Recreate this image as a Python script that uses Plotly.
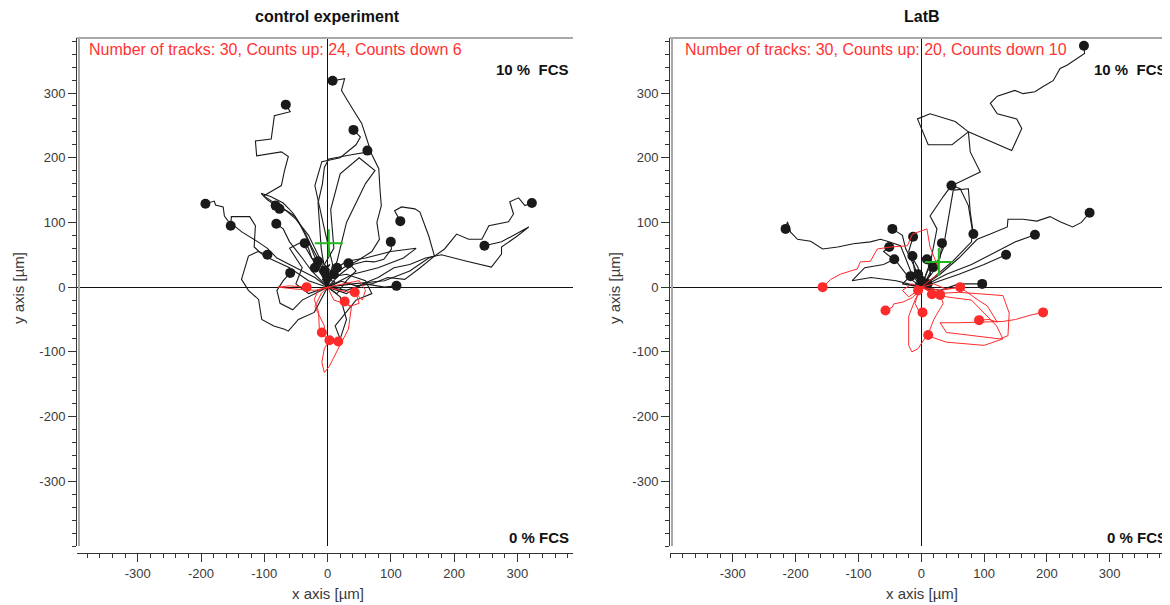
import plotly.graph_objects as go

# ---------------- data (µm) ----------------
ctrl_up_tracks = [
    [(0,0),(6,16),(25,30),(46,40),(70,55),(82,74),(78,100),(85,126),(83,150),(81,183),(70,205),(62,229),(54,253),(40,275),(22,304),(27,322),(8,319)],
    [(0,0),(-13,40),(-25,62),(-36,85),(-52,110),(-78,126),(-101,141),(-85,150),(-73,157),(-68,180),(-62,202),(-73,209),(-112,203),(-114,226),(-89,229),(-84,265),(-59,271),(-66,282)],
    [(0,0),(8,35),(-5,90),(-12,120),(-20,157),(-9,194),(20,200),(45,220),(52,232),(41,243)],
    [(0,0),(-10,60),(-15,130),(-8,160),(-5,185),(2,198),(40,205),(65,209),(63,211)],
    [(0,0),(22,9),(45,2),(70,5),(95,15),(122,12),(144,28),(169,48),(185,59),(204,82),(223,74),(244,74),(255,95),(272,98),(286,101),(294,113),(288,132),(302,138),(312,126),(323,130)],
    [(0,0),(30,-10),(55,5),(80,15),(105,30),(130,35),(155,45),(180,50),(220,40),(259,31),(275,51),(275,62),(300,79),(318,93),(275,70),(248,64)],
    [(0,0),(-20,15),(-50,30),(-80,45),(-95,60),(-110,70),(-135,85),(-157,102),(-163,110),(-165,124),(-177,127),(-179,133),(-193,129)],
    [(0,0),(-30,10),(-60,30),(-85,42),(-100,48),(-116,62),(-114,95),(-123,109),(-152,109),(-153,95)],
    [(0,0),(-15,35),(-30,70),(-45,100),(-55,115),(-70,130),(-90,140),(-105,145),(-95,135),(-82,126)],
    [(0,0),(-25,25),(-40,45),(-60,70),(-70,90),(-81,98)],
    [(0,0),(-10,40),(-30,80),(-50,105),(-65,118),(-76,121)],
    [(0,0),(-21,-39),(-46,-50),(-62,-68),(-68,-65),(-85,-60),(-104,-50),(-109,-19),(-125,-5),(-136,12),(-125,48),(-110,55),(-95,50)],
    [(0,0),(-20,-10),(-40,-20),(-55,-35),(-75,-25),(-80,-5),(-70,10),(-59,22)],
    [(0,0),(-10,20),(-25,45),(-30,60),(-36,68)],
    [(0,0),(15,-10),(30,10),(45,25),(33,37)],
    [(0,0),(30,-5),(60,5),(90,0),(109,2)],
    [(0,0),(40,5),(90,10),(130,25),(160,45),(169,48),(160,79),(146,116),(138,121),(117,124),(106,118),(115,102)],
    [(0,0),(20,20),(40,35),(60,40),(74,39),(89,43),(101,59),(100,70)],
    [(0,0),(-8,12),(5,18),(-12,22),(-3,30),(-18,33),(-6,40),(-20,45),(-15,40)],
    [(0,0),(12,8),(-5,14),(8,22),(-10,28),(4,35),(-8,20),(-5,25)],
    [(0,0),(15,40),(30,100),(60,160),(75,180),(50,200),(20,175),(5,120),(10,60),(-5,35),(10,20)],
    [(0,0),(-30,-10),(-50,5),(-40,30),(-60,60),(-40,70),(-25,45),(-10,38),(-20,30)],
    [(0,0),(20,-15),(30,-50),(20,-80),(12,-60),(45,-20),(70,-10),(60,10),(30,20),(0,15)],
    [(0,0),(40,20),(80,30),(120,45),(140,60),(100,55),(60,45),(30,40),(15,30)],
]
ctrl_down_tracks = [
    [(0,0),(-15,-5),(-21,-19),(-14,-39),(-13,-65),(-9,-70)],
    [(0,0),(10,-20),(38,-29),(33,-65),(19,-91),(3,-122),(-5,-132),(-9,-116),(-5,-95),(3,-82)],
    [(0,0),(-10,-10),(-20,-30),(-5,-60),(-5,-76),(3,-80),(17,-84)],
    [(0,0),(20,-5),(45,-10),(50,-25),(35,-30),(27,-22)],
    [(0,0),(-20,-5),(-50,-3),(-78,0),(-60,2),(-33,0)],
    [(0,0),(25,5),(50,10),(60,-5),(55,-20),(43,-8)],
]
latb_up_tracks = [
    [(0,0),(20,15),(50,40),(80,70),(81,90),(75,126),(62,152),(49,157),(94,178),(78,209),(75,240),(49,220),(11,220),(-6,260),(14,268),(54,256),(75,240),(144,211),(160,245),(152,260),(121,268),(110,284),(121,295),(149,304),(162,299),(181,302),(194,310),(210,319),(221,338),(232,343),(260,361),(259,373)],
    [(0,0),(15,40),(25,90),(14,110),(35,140),(48,157)],
    [(0,0),(-15,20),(-25,45),(-33,64),(-54,71),(-65,74),(-81,70),(-108,67),(-133,62),(-157,59),(-176,71),(-197,74),(-208,85),(-213,101),(-216,90)],
    [(0,0),(30,20),(60,45),(89,74),(110,82),(137,93),(138,105),(162,105),(184,102),(205,109),(221,101),(241,93),(255,100),(268,115)],
    [(0,0),(40,20),(80,35),(120,55),(150,70),(181,81)],
    [(0,0),(20,25),(35,60),(51,150),(75,152),(78,116),(83,82)],
    [(0,0),(30,10),(60,20),(100,35),(135,50)],
    [(0,0),(30,-5),(60,5),(97,5)],
    [(0,0),(-10,30),(-25,60),(-30,80),(-46,90)],
    [(0,0),(-20,15),(-40,40),(-60,55),(-51,62)],
    [(0,0),(-40,10),(-80,15),(-110,10),(-90,30),(-60,35),(-43,43)],
    [(0,0),(-5,30),(-20,55),(-13,78)],
    [(0,0),(10,25),(30,45),(33,68)],
    [(0,0),(-10,20),(-14,48)],
    [(0,0),(15,20),(9,43)],
    [(0,0),(10,15),(19,31)],
    [(0,0),(-30,5),(-17,17)],
    [(0,0),(-10,5),(0,10)],
    [(0,0),(5,12),(-5,20)],
    [(0,0),(15,-5),(10,5)],
]
latb_down_tracks = [
    [(0,0),(30,23),(14,62),(9,90),(-14,82),(-22,64),(-49,62),(-70,59),(-81,40),(-97,39),(-102,28),(-129,20),(-144,12),(-157,0)],
    [(0,0),(-6,-8),(-14,-16),(-29,-23),(-44,-26),(-46,-31),(-57,-36)],
    [(0,0),(20,-10),(60,-8),(95,-10),(130,-13),(140,-40),(138,-75),(125,-80),(80,-75),(40,-70),(30,-55),(60,-55),(130,-53),(150,-50),(175,-43),(194,-39)],
    [(0,0),(30,-5),(62,0),(73,-8),(89,-19),(105,-29),(121,-54),(108,-50),(92,-51)],
    [(0,0),(20,5),(40,-3),(62,0)],
    [(0,0),(-10,-20),(-20,-45),(-20,-90),(-15,-100),(-5,-95),(5,-80),(11,-74)],
    [(0,0),(-5,-10),(-10,-25),(-5,-35),(2,-39)],
    [(0,0),(10,-5),(17,-11)],
    [(0,0),(40,-15),(80,-20),(120,-60),(130,-80),(100,-90),(40,-85),(10,-75),(20,-50),(35,-25),(30,-12)],
    [(0,0),(-15,5),(-30,-5),(-20,-15),(-5,-5)],
]
centers = {"ctrl": (2, 68), "latb": (28, 39)}
panel_titles = ["control experiment", "LatB"]
count_texts = ["Number of tracks: 30, Counts up: 24, Counts down 6",
               "Number of tracks: 30, Counts up: 20, Counts down 10"]
tick_vals = [-300, -200, -100, 0, 100, 200, 300]
tick_text = ["-300", "-200", "-100", "0", "100", "200", "300"]

BLACK = "#1a1a1a"
RED = "#ff2a2a"
FONT = "Liberation Sans, Arial, sans-serif"

fig = go.Figure()


def add_tracks(tracks, color, xa, ya, lw):
    xs, ys, ex, ey = [], [], [], []
    for t in tracks:
        xs += [p[0] for p in t] + [None]
        ys += [p[1] for p in t] + [None]
        ex.append(t[-1][0]); ey.append(t[-1][1])
    fig.add_trace(go.Scatter(x=xs, y=ys, mode="lines", xaxis=xa, yaxis=ya,
                             line=dict(color=color, width=lw), hoverinfo="skip",
                             showlegend=False))
    fig.add_trace(go.Scatter(x=ex, y=ey, mode="markers", xaxis=xa, yaxis=ya,
                             marker=dict(color=color, size=10), showlegend=False))


add_tracks(ctrl_up_tracks, BLACK, "x", "y", 1.1)
add_tracks(ctrl_down_tracks, RED, "x", "y", 1.0)
add_tracks(latb_up_tracks, BLACK, "x2", "y2", 1.1)
add_tracks(latb_down_tracks, RED, "x2", "y2", 1.0)

for key, xa, ya in [("ctrl", "x", "y"), ("latb", "x2", "y2")]:
    cx, cy = centers[key]
    fig.add_trace(go.Scatter(x=[cx], y=[cy], mode="markers", xaxis=xa, yaxis=ya,
                             marker=dict(symbol="cross-thin", size=20,
                                         line=dict(color="#1fb81f", width=2)),
                             showlegend=False))

# page body has an 8px margin -> figure is 8px smaller and positions shifted by 8px
OFF = 8
W, H = 1170 - OFF, 605 - OFF
def px(x): return (x - OFF) / W
def py(y): return 1 - (y - OFF) / H

ydom = [py(546), py(38)]
axis_common = dict(showgrid=False, zeroline=True, zerolinecolor="#111", zerolinewidth=1,
                   showline=True, linecolor="#333", linewidth=1, ticks="outside",
                   ticklen=8, tickcolor="#333", tickvals=tick_vals, ticktext=tick_text,
                   tickfont=dict(family=FONT, size=13, color="#3a3a3a"),
                   minor=dict(dtick=20, ticks="outside", ticklen=4, tickcolor="#333"))

fig.update_layout(
    width=W, height=H, margin=dict(l=0, r=0, t=0, b=0),
    paper_bgcolor="white", plot_bgcolor="white",
    xaxis=dict(domain=[px(77), px(573)], range=[-396, 388], anchor="free",
               position=py(553), **axis_common),
    yaxis=dict(domain=ydom, range=[-400, 385], anchor="x", **axis_common),
    xaxis2=dict(domain=[px(670), 1.0], range=[-400, 396], anchor="free",
                position=py(553), **axis_common),
    yaxis2=dict(domain=ydom, range=[-400, 385], anchor="x2", **axis_common),
)

# frame lines (top & left) of each plot area
for xr, yr in [("x domain", "y domain"), ("x2 domain", "y2 domain")]:
    fig.add_shape(type="line", xref=xr, yref=yr, x0=0, x1=1, y0=1, y1=1,
                  line=dict(color="#a8a8a8", width=2))
    fig.add_shape(type="line", xref=xr, yref=yr, x0=0.004, x1=0.004, y0=0, y1=1,
                  line=dict(color="#a8a8a8", width=2))

ann = []
def text(x, y, s, size, color, xanchor="center", angle=0):
    ann.append(dict(x=px(x), y=py(y), xref="paper", yref="paper", text=s,
                    xanchor=xanchor, yanchor="middle", textangle=angle,
                    showarrow=False, font=dict(family=FONT, size=size, color=color)))

for i, (cxp, leftp, rightp, ylab) in enumerate([(327.5, 87, 571, 18), (921.5, 683, 1169, 614)]):
    text(cxp, 17, "<b>%s</b>" % panel_titles[i], 16, "#111")
    text(leftp, 50, count_texts[i], 16, "#ff3333", "left")
    text(rightp, 69, "<b>10 %  FCS</b>", 15, "#111", "right")
    text(rightp, 537, "<b>0 % FCS</b>", 15, "#111", "right")
    text(cxp, 593, "x axis [µm]", 15, "#3a3a3a")
    text(ylab, 288, "y axis [µm]", 15, "#3a3a3a", angle=-90)
fig.update_layout(annotations=ann)

fig.write_html("out.html")
